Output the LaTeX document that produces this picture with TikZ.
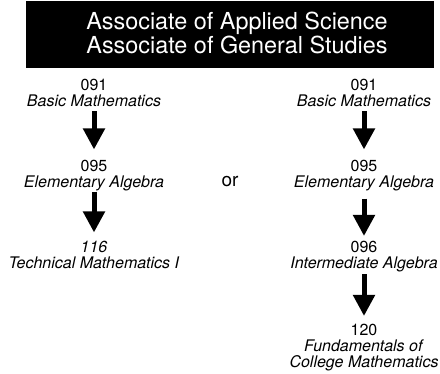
\documentclass[tikz,border=0pt]{standalone}
\usepackage{fontspec}
\setmainfont{TeX Gyre Heros}
\usepackage{tikz}
\usetikzlibrary{arrows.meta, positioning}
\tikzset{
    course/.style={align=center, inner sep=0pt, anchor=base, font=\fontsize{16}{16}\selectfont}, % number on top, title in italics below
    heading/.style={align=center, inner sep=0pt, anchor=base, text=white, font=\fontsize{23.4}{24}\selectfont}, % the two degree names
    banner/.style={fill=black, inner sep=0pt, minimum width=408pt, minimum height=67pt}, % black box behind the heading
    flow/.style={line width=5pt, -{Triangle[width=21pt, length=21pt]}, shorten <=4pt, shorten >=8pt}, % makes the arrows thick
}
\begin{document}
\begin{tikzpicture}[x=1pt, y=-1pt]
    \useasboundingbox (0,0) rectangle (440,373);
    \node[banner] (box) at (230,34.5) {};
    \node[heading] (title) at (237,53) {Associate of Applied Science\\Associate of General Studies};

    % left path (base = last line)
    \node[course] (b1) at (94,106) {091\\\textit{Basic Mathematics}};
    \node[course] (e1) at (94,187) {095\\\textit{Elementary Algebra}};
    \node[course] (t1) at (94,268) {\textit{116}\\\textit{Technical Mathematics I}};

    \node[anchor=base, inner sep=0pt, font=\fontsize{19}{19}\selectfont] (or) at (230,186) {or};

    % right path
    \node[course] (b2) at (364,106) {091\\\textit{Basic Mathematics}};
    \node[course] (e2) at (364,187) {095\\\textit{Elementary Algebra}};
    \node[course] (i2) at (364,268) {096\\\textit{Intermediate Algebra}};
    \node[course] (f2) at (364,367) {120\\\textit{Fundamentals of}\\\textit{College Mathematics}};

    \draw[flow, shorten <=5pt, shorten >=10pt] (b1) -- (e1);
    \draw[flow, shorten <=1pt, shorten >=8pt] (e1) -- (t1);
    \draw[flow, shorten <=5pt, shorten >=10pt] (b2) -- (e2);
    \draw[flow, shorten <=8pt, shorten >=4.5pt] (e2) -- (i2);
    \draw[flow, shorten <=2.5pt, shorten >=7.5pt] (i2) -- (f2);
\end{tikzpicture}
\end{document}
